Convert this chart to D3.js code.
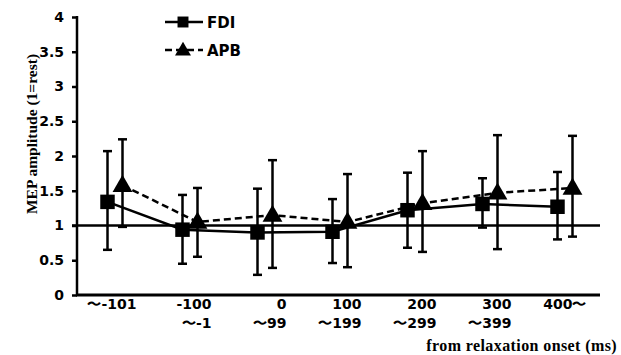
<!DOCTYPE html>
<html>
<head>
<meta charset="utf-8" />
<title>MEP amplitude</title>
<script src="https://cdn.jsdelivr.net/npm/d3@7"></script>
<style>
    html, body { margin: 0; padding: 0; background: #fff; }
    text { fill: #000; }
</style>
</head>
<body>
<script>

    var width = 621;
    var height = 355;

    // data
    var groups = ["~-101", "-100", "0", "100", "200", "300", "400~"];
    var groupsLine2 = ["", "~-1", "~99", "~199", "~299", "~399", ""];
    var yTicks = [0, 0.5, 1, 1.5, 2, 2.5, 3, 3.5, 4];

    var fdiMean = [1.34, 0.94, 0.90, 0.91, 1.22, 1.31, 1.27];
    var fdiHigh = [2.07, 1.44, 1.53, 1.38, 1.76, 1.68, 1.77];
    var fdiLow  = [0.65, 0.45, 0.29, 0.46, 0.68, 0.97, 0.80];

    var apbMean = [1.58, 1.05, 1.15, 1.05, 1.32, 1.47, 1.54];
    var apbHigh = [2.24, 1.54, 1.94, 1.74, 2.07, 2.30, 2.29];
    var apbLow  = [0.98, 0.55, 0.39, 0.40, 0.62, 0.66, 0.84];

    var svg = d3.select('body').append('svg').attr('width', width).attr('height', height);

    var x = d3.scaleBand().domain(groups).range([77, 602]);
    var y = d3.scaleLinear().domain([0, 4]).range([295, 17]);

    var tickFont = 'DejaVu Sans, sans-serif';
    var serifFont = 'Liberation Serif, DejaVu Serif, serif';

    // y axis
    var yAxis = svg.append('g').attr('transform', 'translate(77,0)')
        .call(d3.axisLeft(y).tickValues(yTicks).tickSize(5).tickPadding(8)
            .tickFormat(function(d){ return d; }));
    yAxis.select('.domain').remove();
    yAxis.selectAll('.tick line').attr('stroke', '#000').attr('stroke-width', 2.5);
    yAxis.selectAll('.tick text').attr('font-family', tickFont).attr('font-weight', 'bold')
        .attr('font-size', 14).attr('fill', '#000');
    svg.append('line').attr('x1', 77).attr('x2', 77).attr('y1', y(4) - 1).attr('y2', y(0))
        .attr('stroke', '#000').attr('stroke-width', 2.5);

    // x axis
    svg.append('line').attr('x1', 76).attr('x2', 600).attr('y1', y(0)).attr('y2', y(0))
        .attr('stroke', '#000').attr('stroke-width', 3);

    // reference line at 1
    svg.append('line').attr('x1', 72).attr('x2', 600).attr('y1', y(1)).attr('y2', y(1))
        .attr('stroke', '#000').attr('stroke-width', 2.5);

    // category labels, right aligned in two rows
    var xl = svg.append('g');
    xl.selectAll('.xl1').data(groups).enter().append('text').attr('class', 'xl1')
        .attr('x', function(d){ return x(d) + x.bandwidth() / 2 + 22; })
        .attr('y', 309)
        .attr('text-anchor', 'end')
        .attr('font-family', tickFont).attr('font-weight', 'bold').attr('font-size', 14)
        .text(function(d){ return d.replace(/~/g, '\u301c'); });
    xl.selectAll('.xl2').data(groupsLine2).enter().append('text').attr('class', 'xl2')
        .attr('x', function(d, i){ return x(groups[i]) + x.bandwidth() / 2 + 22; })
        .attr('y', 328)
        .attr('text-anchor', 'end')
        .attr('font-family', tickFont).attr('font-weight', 'bold').attr('font-size', 14)
        .text(function(d){ return d.replace(/~/g, '\u301c'); });

    // axis titles
    svg.append('text')
        .attr('transform', 'translate(37,134) rotate(-90)')
        .attr('text-anchor', 'middle')
        .attr('font-family', serifFont).attr('font-weight', 'bold').attr('font-size', 15.5)
        .text('MEP amplitude (1=rest)');
    svg.append('text')
        .attr('x', 617).attr('y', 351)
        .attr('text-anchor', 'end')
        .attr('font-family', serifFont).attr('font-weight', 'bold').attr('font-size', 16)
        .attr('letter-spacing', 0.4)
        .text('from relaxation onset (ms)');

    var series = [
        { name: 'FDI', mean: fdiMean, high: fdiHigh, low: fdiLow, dx: -7, dash: null, shape: d3.symbolSquare },
        { name: 'APB', mean: apbMean, high: apbHigh, low: apbLow, dx: 8, dash: '7,4', shape: d3.symbolTriangle }
    ];

    function cx(i, s){ return x(groups[i]) + x.bandwidth() / 2 + s.dx; }

    var line = d3.line();

    series.forEach(function(s){
        var g = svg.append('g');
        // error bars
        var eb = g.selectAll('.eb').data(s.mean).enter().append('g');
        eb.append('line')
            .attr('x1', function(d, i){ return cx(i, s); })
            .attr('x2', function(d, i){ return cx(i, s); })
            .attr('y1', function(d, i){ return y(s.high[i]); })
            .attr('y2', function(d, i){ return y(s.low[i]); })
            .attr('stroke', '#000').attr('stroke-width', 2.5);
        [s.high, s.low].forEach(function(arr){
            eb.append('line')
                .attr('x1', function(d, i){ return cx(i, s) - 4.5; })
                .attr('x2', function(d, i){ return cx(i, s) + 4.5; })
                .attr('y1', function(d, i){ return y(arr[i]); })
                .attr('y2', function(d, i){ return y(arr[i]); })
                .attr('stroke', '#000').attr('stroke-width', 2.5);
        });
        // connecting line
        g.append('path')
            .attr('d', line(s.mean.map(function(d, i){ return [cx(i, s), y(d)]; })))
            .attr('fill', 'none').attr('stroke', '#000').attr('stroke-width', 2.5)
            .attr('stroke-dasharray', s.dash);
    });

    // markers on top
    series.forEach(function(s){
        var sym = d3.symbol().type(s.shape).size(s.name == 'FDI' ? 210 : 170);
        svg.append('g').selectAll('path').data(s.mean).enter().append('path')
            .attr('d', sym)
            .attr('transform', function(d, i){ return 'translate(' + cx(i, s) + ',' + (y(d) + (s.name == 'APB' ? 1 : 0)) + ')'; })
            .attr('fill', '#000');
    });

    // legend
    var legend = svg.append('g');
    series.forEach(function(s, i){
        var ly = 22 + i * 28;
        legend.append('line').attr('x1', 165).attr('x2', 203).attr('y1', ly).attr('y2', ly)
            .attr('stroke', '#000').attr('stroke-width', 2.5).attr('stroke-dasharray', s.dash);
        legend.append('path')
            .attr('d', d3.symbol().type(s.shape).size(s.name == 'FDI' ? 120 : 110))
            .attr('transform', 'translate(183,' + (ly + (s.name == 'APB' ? 1 : 0)) + ')')
            .attr('fill', '#000');
        legend.append('text').attr('x', 207).attr('y', ly + 6)
            .attr('font-family', tickFont).attr('font-weight', 'bold').attr('font-size', 15)
            .text(s.name);
    });

</script>
</body>
</html>
